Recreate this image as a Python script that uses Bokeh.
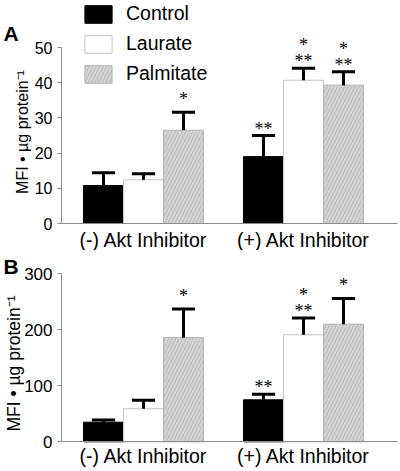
from bokeh.plotting import figure
from bokeh.models import Range1d, FixedTicker, Label, LabelSet, ColumnDataSource
from bokeh.layouts import column
from bokeh.embed import file_html
from bokeh.resources import INLINE

groups = ["(-) Akt Inhibitor", "(+) Akt Inhibitor"]
series = ["Control", "Laurate", "Palmitate"]

# Panel A (MFI per ug protein)
a_control = [10.8, 19.0]
a_control_err = [3.6, 6.0]
a_laurate = [12.4, 40.7]
a_laurate_err = [1.7, 3.4]
a_palmitate = [26.5, 39.3]
a_palmitate_err = [5.1, 3.8]
a_stars_control = ["", "**"]
a_stars_laurate = ["", "*\n**"]
a_stars_palmitate = ["*", "*\n**"]
a_yticks = [0, 10, 20, 30, 40, 50]

# Panel B
b_control = [35, 75]
b_control_err = [4, 10]
b_laurate = [59, 191]
b_laurate_err = [15, 30]
b_palmitate = [186, 210]
b_palmitate_err = [51, 46]
b_stars_control = ["", "**"]
b_stars_laurate = ["", "*\n**"]
b_stars_palmitate = ["*", "*"]
b_yticks = [0, 100, 200, 300]

FONT = "Liberation Sans"
AXIS_COLOR = "#8c8c8c"
styles = {
    "Control": dict(fill_color="black", line_color="black"),
    "Laurate": dict(fill_color="white", line_color="#c4c4c4"),
    "Palmitate": dict(fill_color="#d4d4d4", line_color="#b4b4b4", hatch_pattern="/",
                      hatch_color="#bababa", hatch_scale=7, hatch_weight=1),
}

X_START, X_END = -3.575, 6.425   # 40 px per bar across the 400 px frame
AXIS_X = -2.05                   # where the y axis sits


def panel(letter, data, ymax, yticks, height, axis_top, axis_h, tick_fs,
          ylab_fs, ylab_xy, letter_y, label_standoff, legend):
    # frame = whole canvas; axes sit at fixed locations inside it
    px = axis_h / ymax
    ylo = -(height - axis_top - axis_h) / px
    yhi = ymax + axis_top / px
    p = figure(width=400, height=height, output_backend="svg", toolbar_location=None,
               x_range=Range1d(X_START, X_END), y_range=Range1d(ylo, yhi),
               min_border=0)
    p.outline_line_color = None
    p.grid.visible = False
    p.background_fill_color = "white"

    err_x0, err_y0, err_y1, cap_x0, cap_x1 = [], [], [], [], []
    st_x, st_y, st_t, st_off = [], [], [], []
    for si, name in enumerate(series):
        vals, errs, stars = data[name]
        xs = [gi * 4 + (si - 1) for gi in range(len(groups))]
        src = ColumnDataSource(dict(x=xs, top=vals))
        kw = dict(styles[name])
        if legend:
            kw["legend_label"] = name
        p.vbar(x="x", top="top", width=1.0, bottom=0, source=src, line_width=1, **kw)
        for x, v, e, s in zip(xs, vals, errs, stars):
            err_x0.append(x)
            err_y0.append(v)
            err_y1.append(v + e)
            cap_x0.append(x - 0.29)
            cap_x1.append(x + 0.29)
            rows = s.split("\n") if s else []
            if rows == ["*"]:
                offsets = [17]
            else:
                offsets = [11 + 16 * (len(rows) - 1 - k) for k in range(len(rows))]
            for r, o in zip(rows, offsets):
                st_x.append(x)
                st_y.append(v + e)
                st_t.append(r)
                st_off.append(o - 10)

    p.segment(x0=err_x0, y0=err_y0, x1=err_x0, y1=err_y1, line_color="black",
              line_width=3, line_cap="butt")
    p.segment(x0=cap_x0, y0=err_y1, x1=cap_x1, y1=err_y1, line_color="black",
              line_width=3, line_cap="butt")

    ssrc = ColumnDataSource(dict(x=st_x, y=st_y, t=st_t, off=st_off))
    p.add_layout(LabelSet(x="x", y="y", text="t", y_offset="off", source=ssrc,
                          text_align="center", text_baseline="alphabetic",
                          text_font=FONT, text_font_size="18px", text_color="black"))

    # value axis
    p.yaxis.fixed_location = AXIS_X
    p.yaxis.bounds = (0, ymax)
    p.yaxis.ticker = FixedTicker(ticks=yticks)
    p.yaxis.minor_tick_line_color = None
    p.yaxis.major_tick_out = 4
    p.yaxis.major_tick_in = 0
    p.yaxis.axis_line_color = AXIS_COLOR
    p.yaxis.major_tick_line_color = AXIS_COLOR
    p.yaxis.major_label_text_font = FONT
    p.yaxis.major_label_text_font_size = tick_fs
    p.yaxis.major_label_text_color = "black"
    p.yaxis.major_label_standoff = 5

    # category axis
    p.xaxis.fixed_location = 0
    p.xaxis.bounds = (AXIS_X, 6.35)
    p.xaxis.ticker = FixedTicker(ticks=[0, 4])
    p.xaxis.major_label_overrides = {0: groups[0], 4: groups[1]}
    p.xaxis.minor_tick_line_color = None
    p.xaxis.major_tick_line_color = None
    p.xaxis.major_tick_out = 0
    p.xaxis.major_tick_in = 0
    p.xaxis.axis_line_color = AXIS_COLOR
    p.xaxis.major_label_text_font = FONT
    p.xaxis.major_label_text_font_size = "19.5px"
    p.xaxis.major_label_text_color = "black"
    p.xaxis.major_label_standoff = label_standoff

    p.add_layout(Label(x=ylab_xy[0], y=ylab_xy[1], x_units="screen", y_units="screen",
                       text="MFI \u2022 \u00b5g protein\u207b\u00b9", angle=90, angle_units="deg",
                       text_align="center", text_baseline="middle", text_font=FONT,
                       text_font_size=ylab_fs, text_color="black"))
    p.add_layout(Label(x=3, y=letter_y, x_units="screen", y_units="screen", text=letter,
                       text_align="left", text_baseline="alphabetic", text_font=FONT,
                       text_font_style="bold", text_font_size="21px", text_color="black"))

    if legend:
        lg = p.legend[0]
        lg.location = (81, height - 85)
        lg.orientation = "vertical"
        lg.glyph_width = 34
        lg.glyph_height = 22
        lg.label_height = 22
        lg.spacing = 7
        lg.padding = 0
        lg.margin = 0
        lg.label_standoff = 11
        lg.border_line_alpha = 0
        lg.background_fill_alpha = 0
        lg.label_text_font = FONT
        lg.label_text_font_size = "19.5px"
        lg.label_text_color = "black"
        lg.label_text_baseline = "middle"
    return p


pa = panel("A",
           {"Control": (a_control, a_control_err, a_stars_control),
            "Laurate": (a_laurate, a_laurate_err, a_stars_laurate),
            "Palmitate": (a_palmitate, a_palmitate_err, a_stars_palmitate)},
           50, a_yticks, 250, 47, 176, "16px", "16px", (22, 118.5), 217, 5, True)
pb = panel("B",
           {"Control": (b_control, b_control_err, b_stars_control),
            "Laurate": (b_laurate, b_laurate_err, b_stars_laurate),
            "Palmitate": (b_palmitate, b_palmitate_err, b_stars_palmitate)},
           300, b_yticks, 221, 23.3, 168, "17px", "17.5px", (13.5, 108), 205, 3, False)

layout = column(pa, pb, spacing=0)
open("out.html", "w").write(file_html(layout, INLINE))
